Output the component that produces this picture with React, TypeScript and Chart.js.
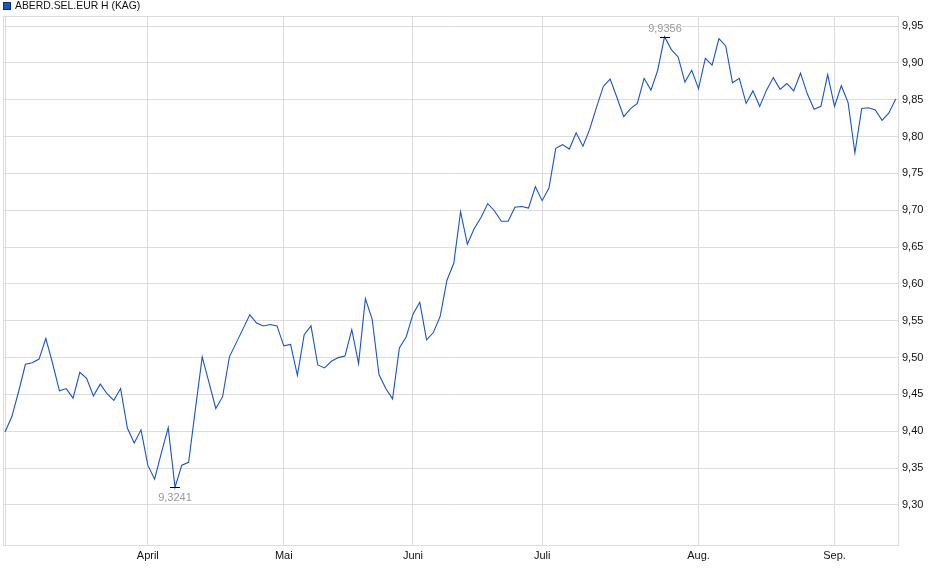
import React, { useEffect, useRef } from 'react';
import { Chart, registerables, Plugin } from 'chart.js';

Chart.register(...registerables);

// daily prices, one per trading day (index 0 = first day shown)
const kurs: number[] = [
    9.399, 9.42, 9.454, 9.491, 9.493, 9.498, 9.526, 9.492, 9.455, 9.458,
    9.445, 9.48, 9.472, 9.448, 9.464, 9.451, 9.442, 9.458, 9.404, 9.384,
    9.402, 9.354, 9.335, 9.371, 9.405, 9.3241, 9.354, 9.358, 9.43, 9.501,
    9.466, 9.431, 9.447, 9.501, 9.52, 9.539, 9.558, 9.547, 9.543, 9.545,
    9.543, 9.516, 9.518, 9.476, 9.531, 9.543, 9.49, 9.486, 9.495, 9.5,
    9.502, 9.538, 9.492, 9.58, 9.552, 9.477, 9.458, 9.444, 9.513, 9.528,
    9.559, 9.575, 9.524, 9.534, 9.556, 9.605, 9.628, 9.698, 9.654, 9.675,
    9.69, 9.709, 9.699, 9.685, 9.685, 9.704, 9.705, 9.703, 9.732, 9.713,
    9.73, 9.784, 9.789, 9.783, 9.805, 9.787, 9.81, 9.84, 9.868, 9.878,
    9.853, 9.827, 9.838, 9.845, 9.879, 9.863, 9.89, 9.9356, 9.918, 9.908,
    9.874, 9.89, 9.865, 9.906, 9.897, 9.933, 9.923, 9.873, 9.879, 9.845,
    9.862, 9.841, 9.863, 9.88, 9.864, 9.872, 9.862, 9.886, 9.858, 9.837,
    9.841, 9.884, 9.841, 9.869, 9.846, 9.778, 9.838, 9.839, 9.836, 9.822,
    9.832, 9.851,
];

// first trading day of each month (index into kurs)
const monthIdx: number[] = [0, 21, 41, 60, 79, 102, 122];
const monthLabels: string[] = ['', 'April', 'Mai', 'Juni', 'Juli', 'Aug.', 'Sep.'];

const yTicks: number[] = [9.3, 9.35, 9.4, 9.45, 9.5, 9.55, 9.6, 9.65, 9.7, 9.75, 9.8, 9.85, 9.9, 9.95];

const seriesName = 'ABERD.SEL.EUR H (KAG)';
const lineColor = '#1a55c4';
const gridColor = '#dcdcdc';
const fontFamily = '"Liberation Sans", Arial, sans-serif';

const fmt = (v: number, d: number) => v.toFixed(d).replace('.', ',');

/**
 * Legend, frame and min / max markers
 */
const extrasPlugin: Plugin<'line'> = {
    id: 'extras',
    afterDraw(chart) {
        const { ctx, chartArea, scales } = chart;
        const x = scales.x;
        const y = scales.y;
        ctx.save();

        // frame (top and left)
        ctx.strokeStyle = gridColor;
        ctx.lineWidth = 1;
        ctx.beginPath();
        ctx.moveTo(chartArea.left + 0.5, chartArea.bottom);
        ctx.lineTo(chartArea.left + 0.5, chartArea.top + 0.5);
        ctx.lineTo(chartArea.right, chartArea.top + 0.5);
        ctx.stroke();

        // legend
        ctx.fillStyle = lineColor;
        ctx.fillRect(3, 2, 8, 8);
        ctx.strokeStyle = '#0d2d6b';
        ctx.strokeRect(3.5, 2.5, 7, 7);
        ctx.fillStyle = '#111';
        ctx.font = `10.4px ${fontFamily}`;
        ctx.textBaseline = 'middle';
        ctx.textAlign = 'left';
        ctx.fillText(seriesName, 15, 6.5);

        // min / max markers
        let iMax = 0;
        let iMin = 0;
        kurs.forEach((v, i) => {
            if (v > kurs[iMax]) iMax = i;
            if (v < kurs[iMin]) iMin = i;
        });
        ctx.font = `11px ${fontFamily}`;
        const mark = (i: number, above: boolean) => {
            const px = Math.round(x.getPixelForValue(i));
            const py = Math.round(y.getPixelForValue(kurs[i])) + 0.5;
            ctx.strokeStyle = '#000';
            ctx.beginPath();
            ctx.moveTo(px - 5, py);
            ctx.lineTo(px + 5, py);
            ctx.stroke();
            ctx.fillStyle = '#999';
            ctx.textAlign = 'center';
            ctx.fillText(fmt(kurs[i], 4), px, above ? py - 9 : py + 10);
        };
        mark(iMax, true);
        mark(iMin, false);
        ctx.restore();
    },
};

const KursChart: React.FC = () => {
    const canvas = useRef<HTMLCanvasElement>(null);

    useEffect(() => {
        const ctx = canvas.current;
        if (!ctx) return;

        const chart = new Chart(ctx, {
            type: 'line',
            data: {
                datasets: [
                    {
                        label: seriesName,
                        data: kurs.map((v, i) => ({ x: i, y: v })),
                        borderColor: lineColor,
                        borderWidth: 1.1,
                        pointRadius: 0,
                        tension: 0,
                        fill: false,
                    },
                ],
            },
            options: {
                animation: false,
                responsive: false,
                devicePixelRatio: 1,
                layout: {
                    padding: { left: 3, top: 16, right: 0, bottom: 0 },
                },
                plugins: {
                    legend: { display: false },
                    tooltip: { enabled: false },
                },
                scales: {
                    x: {
                        type: 'linear',
                        min: -0.3,
                        max: kurs.length - 1 + 0.34,
                        afterBuildTicks: (scale) => {
                            scale.ticks = monthIdx.map((v) => ({ value: v }));
                        },
                        afterFit: (scale) => {
                            scale.height = 34;
                        },
                        grid: {
                            color: gridColor,
                            drawTicks: false,
                        },
                        border: { color: gridColor },
                        ticks: {
                            autoSkip: false,
                            maxRotation: 0,
                            padding: 4,
                            color: '#111',
                            font: { family: fontFamily, size: 11 },
                            callback: (value) => monthLabels[monthIdx.indexOf(Number(value))] ?? '',
                        },
                    },
                    y: {
                        position: 'right',
                        min: 9.2457,
                        max: 9.9636,
                        afterBuildTicks: (scale) => {
                            scale.ticks = yTicks.map((v) => ({ value: v }));
                        },
                        afterFit: (scale) => {
                            scale.width = 42;
                        },
                        grid: {
                            color: gridColor,
                            drawTicks: false,
                        },
                        border: { color: gridColor },
                        ticks: {
                            padding: 4,
                            color: '#111',
                            font: { family: fontFamily, size: 11 },
                            callback: (value) => fmt(Number(value), 2),
                        },
                    },
                },
            },
            plugins: [extrasPlugin],
        });
        return () => chart.destroy();
    }, []);

    return <canvas ref={canvas} width={940} height={579}></canvas>;
};

export default function App() {
    return (
        <div style={{ position: 'absolute', left: 0, top: 0, width: 940, height: 579, background: '#fff' }}>
            <KursChart />
        </div>
    );
}
